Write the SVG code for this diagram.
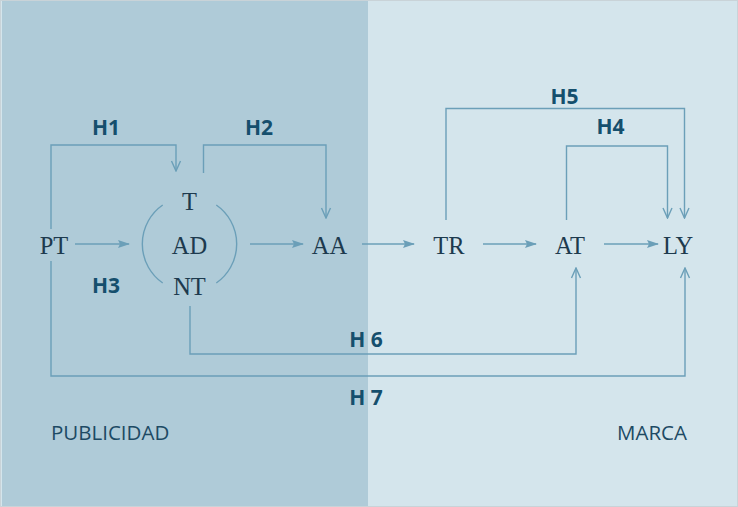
<svg xmlns="http://www.w3.org/2000/svg" width="738" height="507" viewBox="0 0 738 507">
<defs>
<style>
.node{font-family:"Liberation Serif","Times New Roman",serif;font-size:24.5px;fill:#1d3a4e;text-anchor:middle}
.hl{font-family:"Open Sans","Noto Sans",sans-serif;font-size:21px;font-weight:bold;fill:#154f6d;text-anchor:middle}
.cap{font-family:"Open Sans","Noto Sans",sans-serif;font-size:20.5px;fill:#1d4a64}
.ln{fill:none;stroke:#6b9fb8;stroke-width:1.4}
.fa{fill:#6b9fb8}
</style>
<marker id="filled" viewBox="0 0 12 10" refX="11" refY="5" markerWidth="12" markerHeight="10" markerUnits="userSpaceOnUse" orient="auto">
<path d="M0,1 L12,5 L0,9 L2,5 z" class="fa"/>
</marker>
<marker id="open" viewBox="0 0 12 12" refX="11" refY="6" markerWidth="12" markerHeight="12" markerUnits="userSpaceOnUse" orient="auto">
<path d="M1,1.5 L11,6 L1,10.5" fill="none" stroke="#6b9fb8" stroke-width="1.4"/>
</marker>
</defs>
<rect x="0.5" y="0.5" width="737" height="506" fill="#d4e5ec" stroke="#c9d3d8" stroke-width="1"/>
<rect x="2" y="1" width="366" height="505" fill="#afcbd8"/>
<rect x="368" y="1" width="367" height="505" fill="#d4e5ec"/>

<g id="connectors">
<line class="ln" x1="75" y1="244" x2="129" y2="244" marker-end="url(#filled)"/>
<line class="ln" x1="250" y1="244" x2="303" y2="244" marker-end="url(#filled)"/>
<line class="ln" x1="362" y1="244" x2="414" y2="244" marker-end="url(#filled)"/>
<line class="ln" x1="483" y1="244" x2="536" y2="244" marker-end="url(#filled)"/>
<line class="ln" x1="604" y1="244" x2="658" y2="244" marker-end="url(#filled)"/>
<polyline class="ln" points="51,229 51,145 176,145 176,171" marker-end="url(#open)"/>
<polyline class="ln" points="203.5,173 203.5,145 326,145 326,218" marker-end="url(#open)"/>
<polyline class="ln" points="446,220 446,108.5 684.5,108.5 684.5,218" marker-end="url(#open)"/>
<polyline class="ln" points="566.5,220 566.5,146 667.5,146 667.5,218" marker-end="url(#open)"/>
<polyline class="ln" points="190,306 190,354 576,354 576,268" marker-end="url(#open)"/>
<polyline class="ln" points="51,261 51,376 685,376 685,268" marker-end="url(#open)"/>
</g>

<g id="PT"><text class="node" x="54" y="254">PT</text></g>
<g id="AD">
<path class="ln" d="M162.7,205 A47.5,47.5 0 0 0 162.7,283"/>
<path class="ln" d="M216.3,205 A47.5,47.5 0 0 1 216.3,283"/>
<text class="node" x="189.5" y="210">T</text>
<text class="node" x="189.5" y="254">AD</text>
<text class="node" x="189.5" y="295">NT</text>
</g>
<g id="AA"><text class="node" x="329.5" y="254">AA</text></g>
<g id="TR"><text class="node" x="449" y="254">TR</text></g>
<g id="AT"><text class="node" x="570" y="254">AT</text></g>
<g id="LY"><text class="node" x="678" y="254">LY</text></g>

<g id="labels">
<text class="hl" x="106" y="135">H1</text>
<text class="hl" x="259" y="135">H2</text>
<text class="hl" x="106" y="293">H3</text>
<text class="hl" x="610.5" y="134">H4</text>
<text class="hl" x="564.5" y="104">H5</text>
<text class="hl" x="366" y="347">H 6</text>
<text class="hl" x="366" y="405">H 7</text>
<text class="cap" x="51" y="440">PUBLICIDAD</text>
<text class="cap" x="687" y="440" text-anchor="end">MARCA</text>
</g>
</svg>
